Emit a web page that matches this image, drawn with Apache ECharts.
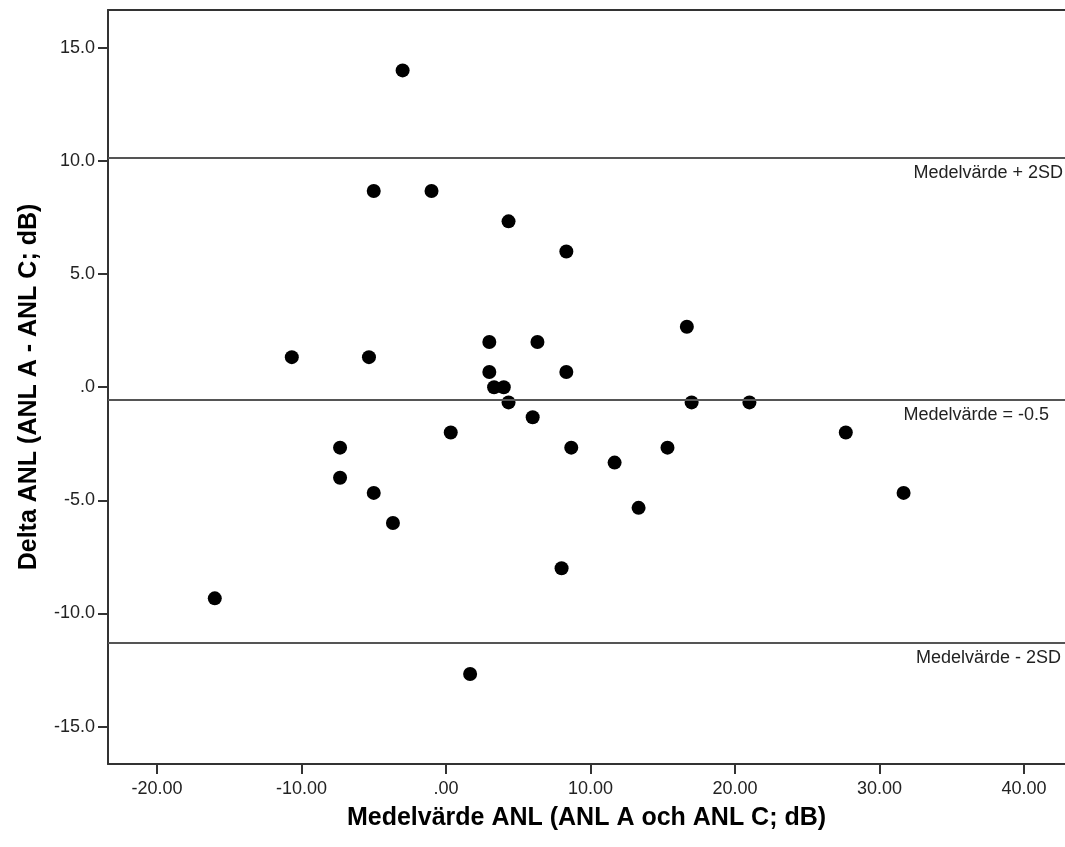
<!DOCTYPE html>
<html>
<head>
<meta charset="utf-8">
<script src="https://cdn.jsdelivr.net/npm/echarts@6/dist/echarts.min.js"></script>
<style>
  html, body { margin: 0; padding: 0; background: #fff; }
  #chart { width: 1065px; height: 847px; }
</style>
</head>
<body>
<div id="chart"></div>
<script>
// Mean of ANL A and ANL C (x) and difference ANL A - ANL C (y)
const meanValues = [
  -3.0, -5.0, -1.0, 4.33, 8.33, 3.0, 6.33, -10.67, -5.33, 3.0, 8.33,
  3.33, 4.0, 4.33, 6.0, 0.33, -7.33, 8.67, 15.33, 11.67, -7.33, -5.0,
  13.33, -3.67, 8.0, -16.0, 1.67, 16.67, 17.0, 21.0, 27.67, 31.67
];
const deltaValues = [
  14.0, 8.67, 8.67, 7.33, 6.0, 2.0, 2.0, 1.33, 1.33, 0.67, 0.67,
  0, 0, -0.67, -1.33, -2.0, -2.67, -2.67, -2.67, -3.33, -4.0, -4.67,
  -5.33, -6.0, -8.0, -9.33, -12.67, 2.67, -0.67, -0.67, -2.0, -4.67
];

// Reference lines (mean and limits of agreement)
const refValues = [10.12, -0.56, -11.3];
const refLabels = ['Medelvärde + 2SD', 'Medelvärde = -0.5', 'Medelvärde - 2SD'];

const xTicks = [-20, -10, 0, 10, 20, 30, 40];
const yTicks = [-15, -10, -5, 0, 5, 10, 15];

const xMin = -23.39, xMax = 42.84;
const yMin = -16.65, yMax = 16.67;

const font = "'Liberation Sans', Arial, sans-serif";

function fmt(v, digits) {
  return v.toFixed(digits).replace(/^(-?)0\./, '$1.');
}

const chart = echarts.init(document.getElementById('chart'));

const points = meanValues.map((x, i) => [x, deltaValues[i]]);

// how far each label sits from the right edge
const labelRight = [2, 16, 4];
const markData = refValues.map((v, i) => ({
  yAxis: v,
  label: {
    formatter: refLabels[i],
    distance: [labelRight[i], 6]
  }
}));

chart.setOption({
  animation: false,
  grid: { left: 108, right: 0, top: 10, bottom: 83 },
  xAxis: [{
    type: 'value',
    min: xMin,
    max: xMax,
    name: 'Medelvärde ANL (ANL A och ANL C; dB)',
    nameLocation: 'middle',
    nameGap: 42,
    nameTextStyle: { fontFamily: font, fontSize: 25, fontWeight: 'bold', color: '#000' },
    splitLine: { show: false },
    axisLine: { show: true, onZero: false, lineStyle: { color: '#333', width: 2 } },
    axisTick: { show: true, customValues: xTicks, length: 10, lineStyle: { color: '#333', width: 2 } },
    axisLabel: {
      customValues: xTicks,
      margin: 16,
      fontFamily: font,
      fontSize: 18,
      color: '#222',
      formatter: v => fmt(v, 2)
    }
  }, {
    type: 'value',
    position: 'top',
    min: xMin,
    max: xMax,
    splitLine: { show: false },
    axisLine: { show: true, onZero: false, lineStyle: { color: '#333', width: 2 } },
    axisTick: { show: false },
    axisLabel: { show: false }
  }],
  yAxis: {
    type: 'value',
    min: yMin,
    max: yMax,
    name: 'Delta ANL (ANL A - ANL C; dB)',
    nameLocation: 'middle',
    nameGap: 66,
    nameTextStyle: { fontFamily: font, fontSize: 25, fontWeight: 'bold', color: '#000' },
    splitLine: { show: false },
    axisLine: { show: true, onZero: false, lineStyle: { color: '#333', width: 2 } },
    axisTick: { show: true, customValues: yTicks, length: 10, lineStyle: { color: '#333', width: 2 } },
    axisLabel: {
      customValues: yTicks,
      margin: 13,
      fontFamily: font,
      fontSize: 18,
      color: '#222',
      formatter: v => fmt(v, 1)
    }
  },
  series: [{
    type: 'scatter',
    data: points,
    symbol: 'circle',
    symbolSize: 14,
    itemStyle: { color: '#000', opacity: 1 },
    markLine: {
      silent: true,
      symbol: ['none', 'none'],
      lineStyle: { type: 'solid', color: '#555', width: 2 },
      label: {
        show: true,
        position: 'insideEndBottom',
        fontFamily: font,
        fontSize: 18,
        color: '#222'
      },
      data: markData
    }
  }]
});

window.addEventListener('resize', () => chart.resize());
</script>
</body>
</html>
